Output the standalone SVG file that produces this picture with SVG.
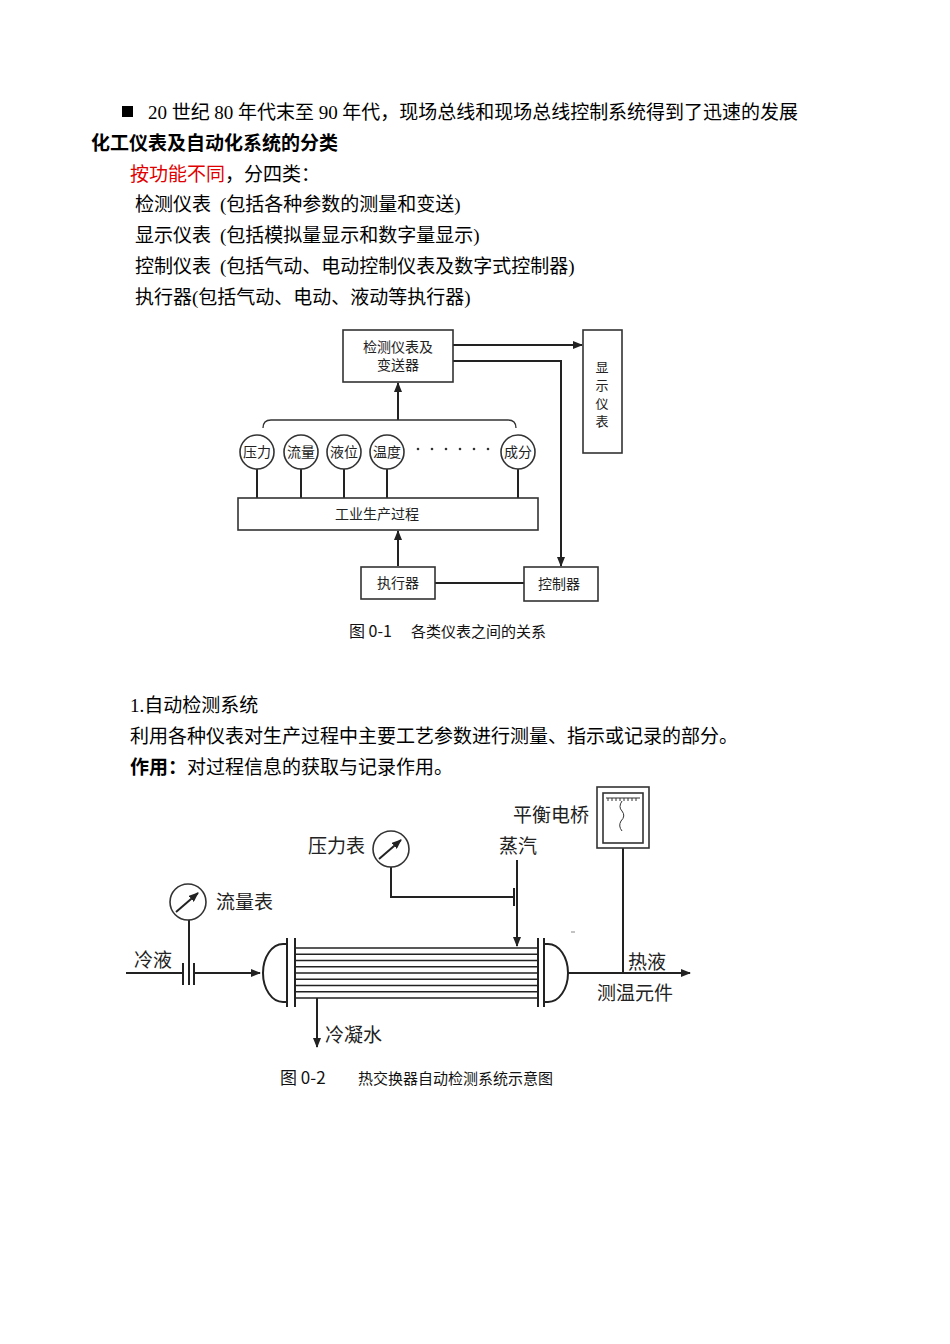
<svg xmlns="http://www.w3.org/2000/svg" width="950" height="1344" viewBox="0 0 950 1344">
<style>
.t{font-family:"Liberation Serif","Noto Sans CJK SC",serif;font-size:19px;fill:#000}
.b{font-weight:bold}
.f{font-family:"Noto Sans CJK SC","Liberation Sans",sans-serif;font-size:14px;fill:#222}
.v{font-family:"Noto Sans CJK SC","Liberation Sans",sans-serif;font-size:13px;fill:#222}
.g{font-family:"Noto Sans CJK SC","Liberation Sans",sans-serif;font-size:19px;fill:#222}
.c{font-family:"Noto Sans CJK SC","Liberation Sans",sans-serif;font-size:15px;fill:#111}
.s{fill:none;stroke:#222;stroke-width:2}
.bx{fill:#fff;stroke:#333;stroke-width:1.6}
</style>
<defs>
<marker id="a" markerWidth="10" markerHeight="8" refX="9" refY="4" orient="auto" markerUnits="userSpaceOnUse"><path d="M0,0 L10,4 L0,8 Z" fill="#222"/></marker>
</defs>
<rect x="122" y="106" width="11" height="11" fill="#000"/>
<text class="t" x="148" y="119" textLength="650" lengthAdjust="spacing">20 世纪 80 年代末至 90 年代，现场总线和现场总线控制系统得到了迅速的发展</text>
<text class="t b" x="91" y="150">化工仪表及自动化系统的分类</text>
<text class="t" x="130" y="181"><tspan fill="#e00000">按功能不同</tspan>，分四类：</text>
<text class="t" x="135" y="211">检测仪表 <tspan x="220">(包括各种参数的测量和变送)</tspan></text>
<text class="t" x="135" y="242">显示仪表 <tspan x="220">(包括模拟量显示和数字量显示)</tspan></text>
<text class="t" x="135" y="273">控制仪表 <tspan x="220">(包括气动、电动控制仪表及数字式控制器)</tspan></text>
<text class="t" x="135" y="304">执行器(包括气动、电动、液动等执行器)</text>

<g id="connectors1">
<path class="s" d="M453,345 H582" marker-end="url(#a)"/>
<path class="s" d="M453,361 H561 V566" marker-end="url(#a)"/>
<path class="s" d="M398,420 V383" marker-end="url(#a)"/>
<path class="s" d="M398,566 V531" marker-end="url(#a)"/>
<path class="s" d="M435,583 H524"/>
<path fill="none" stroke="#333" stroke-width="1.3" d="M263,428 Q263,420 271,420 H508 Q516,420 516,428"/>
<path class="s" d="M257,469 V498 M301,469 V498 M344,469 V498 M387,469 V498 M518,469 V498"/>
</g>
<g id="n-detect"><rect class="bx" x="343" y="330" width="110" height="52"/><text class="f" x="398" y="352" text-anchor="middle">检测仪表及</text><text class="f" x="398" y="370" text-anchor="middle">变送器</text></g>
<g id="n-display"><rect class="bx" x="583" y="330" width="39" height="123"/><text class="v" x="602" y="372" text-anchor="middle">显</text><text class="v" x="602" y="390" text-anchor="middle">示</text><text class="v" x="602" y="408" text-anchor="middle">仪</text><text class="v" x="602" y="426" text-anchor="middle">表</text></g>
<g id="n-sensors" class="f">
<circle class="bx" cx="257" cy="452" r="17"/><text x="257" y="457" text-anchor="middle">压力</text>
<circle class="bx" cx="301" cy="452" r="17"/><text x="301" y="457" text-anchor="middle">流量</text>
<circle class="bx" cx="344" cy="452" r="17"/><text x="344" y="457" text-anchor="middle">液位</text>
<circle class="bx" cx="387" cy="452" r="17"/><text x="387" y="457" text-anchor="middle">温度</text>
<circle class="bx" cx="518" cy="452" r="17"/><text x="518" y="457" text-anchor="middle">成分</text>
<g fill="#333"><circle cx="418" cy="449" r="1.3"/><circle cx="432" cy="449" r="1.3"/><circle cx="446" cy="449" r="1.3"/><circle cx="460" cy="449" r="1.3"/><circle cx="474" cy="449" r="1.3"/><circle cx="488" cy="449" r="1.3"/></g>
</g>
<g id="n-process"><rect class="bx" x="238" y="498" width="300" height="32"/><text class="f" x="377" y="519" text-anchor="middle">工业生产过程</text></g>
<g id="n-actuator"><rect class="bx" x="361" y="567" width="74" height="32"/><text class="f" x="398" y="588" text-anchor="middle">执行器</text></g>
<g id="n-controller"><rect class="bx" x="524" y="567" width="74" height="34"/><text class="f" x="559" y="589" text-anchor="middle">控制器</text></g>
<text class="c" x="349" y="637"><tspan font-size="16">图 0-1</tspan><tspan x="411">各类仪表之间的关系</tspan></text>

<text class="t" x="130" y="712">1.自动检测系统</text>
<text class="t" x="130" y="743">利用各种仪表对生产过程中主要工艺参数进行测量、指示或记录的部分。</text>
<text class="t" x="130" y="774"><tspan class="b">作用：</tspan>对过程信息的获取与记录作用。</text>

<g id="connectors2">
<path class="s" d="M126,973 H183 M194,973 H260" marker-end="url(#a)"/>
<path class="s" d="M183,963 V985 M194,963 V985"/>
<path class="s" d="M189,920 V985"/>
<path class="s" d="M391,867 V897 H514 M514,888 V906"/>
<path class="s" d="M517,860 V946" marker-end="url(#a)"/>
<path class="s" d="M317,998 V1047" marker-end="url(#a)"/>
<path class="s" d="M623,848 V973"/>
<path class="s" d="M568,973 H690" marker-end="url(#a)"/>
<path stroke="#888" stroke-width="1" d="M571,932 H575"/>
</g>
<g id="n-flowmeter"><circle class="bx" cx="188" cy="902" r="18"/><path class="s" stroke-width="1.5" d="M176,912 L198,893" marker-end="url(#a)"/><text class="g" x="216" y="909">流量表</text></g>
<g id="n-pressure"><circle class="bx" cx="391" cy="849" r="18"/><path class="s" stroke-width="1.5" d="M379,859 L401,840" marker-end="url(#a)"/><text class="g" x="308" y="853">压力表</text></g>
<text class="g" x="499" y="853">蒸汽</text>
<g id="n-recorder"><rect class="bx" x="597" y="787" width="52" height="61"/><rect class="bx" x="603" y="793" width="40" height="50"/><path stroke="#333" stroke-width="1" fill="none" d="M606,798 H640 M608,798 v3 M612,798 v3 M616,798 v3 M620,798 v3 M624,798 v3 M628,798 v3 M632,798 v3 M636,798 v3 M622,801 q-4,6 0,10 q4,5 -1,10 q-3,5 1,10"/><text class="g" x="513" y="822">平衡电桥</text></g>
<g id="n-exchanger" fill="none" stroke="#222" stroke-width="2">
<path d="M287,938 V1007 M295,938 V1007 M538,938 V1007 M544,938 V1007"/>
<path d="M287,944 H283 A20,29 0 0 0 283,1002 H287"/>
<path d="M544,944 H548 A20,29 0 0 1 548,1002 H544"/>
<path stroke-width="1.5" d="M295,948 H538 M295,954.2 H538 M295,960.5 H538 M295,966.8 H538 M295,973 H538 M295,979.2 H538 M295,985.5 H538 M295,991.8 H538 M295,998 H538"/>
</g>
<text class="g" x="134" y="967">冷液</text>
<text class="g" x="628" y="969">热液</text>
<text class="g" x="597" y="1000">测温元件</text>
<text class="g" x="325" y="1042">冷凝水</text>
<text class="c" x="280" y="1084"><tspan font-size="17">图 0-2</tspan><tspan x="358">热交换器自动检测系统示意图</tspan></text>
</svg>
